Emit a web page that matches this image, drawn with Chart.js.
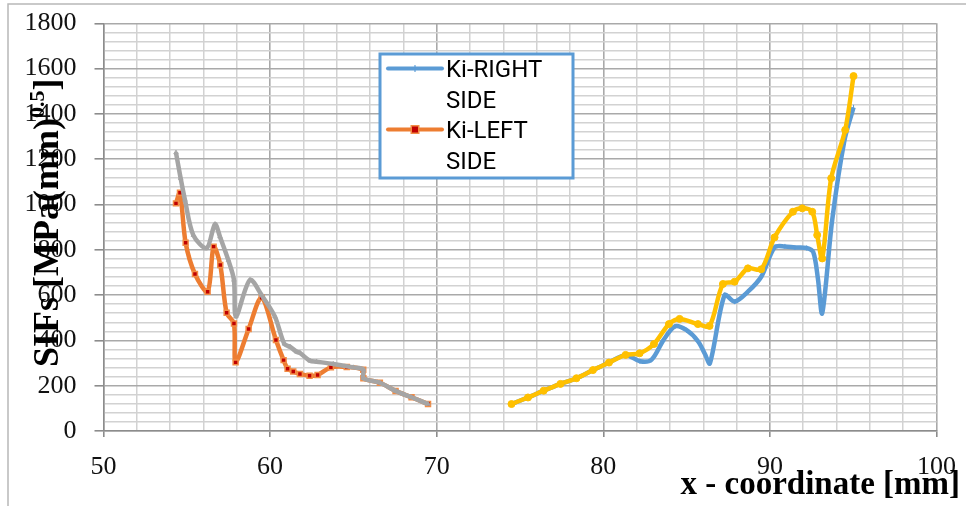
<!DOCTYPE html>
<html>
<head>
<meta charset="utf-8">
<script src="https://cdn.jsdelivr.net/npm/chart.js@4.4.0/dist/chart.umd.min.js"></script>
<style>
  body { margin: 0; background: #fff; }
  #sifChart { display: block; }
</style>
</head>
<body>
<canvas id="sifChart" width="966" height="506"></canvas>
<script>
// ---------------- data ----------------

const rightLabel = "Ki-RIGHT SIDE";
const leftLabel = "Ki-LEFT SIDE";

// Ki right side (blue)
const rightX = [74.49, 75.48, 76.42, 77.43, 78.39, 79.38, 80.34, 81.34, 82.2, 82.9, 83.6, 84.3, 85.0, 85.7, 86.1, 86.4,
  87.28, 87.88, 88.68, 89.48, 90.28, 90.9, 91.5, 92.2, 92.6, 92.88, 93.14, 93.74, 94.48, 95.02];
const rightY = [119, 148, 178, 208, 233, 269, 302, 336, 308, 315, 400, 462, 445, 395, 340, 299,
  600, 571, 615, 681, 811, 815, 810, 808, 790, 674, 520, 932, 1285, 1429];

// second right side series (yellow)
const right2X = [74.49, 75.48, 76.42, 77.43, 78.39, 79.38, 80.34, 81.34, 82.18, 83.04, 83.94, 84.58, 85.68, 86.38,
  87.18, 87.88, 88.68, 89.48, 90.28, 91.38, 91.94, 92.54, 92.84, 93.14, 93.68, 94.52, 95.02];
const right2Y = [119, 148, 178, 208, 233, 269, 302, 336, 343, 384, 472, 495, 472, 464,
  649, 659, 718, 714, 855, 968, 983, 968, 865, 762, 1116, 1329, 1567];

// Ki left side (orange)
const leftX = [54.35, 54.59, 54.93, 55.49, 56.25, 56.61, 57.01, 57.39, 57.83, 57.93, 58.71, 59.49, 60.35, 60.81,
  61.05, 61.39, 61.79, 62.37, 62.85, 63.65, 64.6, 65.59, 65.6, 66.59, 67.53, 68.49, 69.48];
const leftY = [1005, 1052, 831, 693, 615, 814, 733, 522, 475, 303, 450, 588, 402, 313,
  275, 263, 252, 244, 247, 281, 283, 270, 233, 213, 177, 149, 119];

// second left side series (gray)
const left2X = [54.35, 54.63, 54.89, 55.39, 56.19, 56.69, 56.99, 57.49, 57.83, 57.95, 58.79, 59.49, 60.29, 60.85,
  61.19, 61.59, 61.79, 62.39, 62.79, 63.79, 64.99, 65.59, 65.6, 66.59, 67.53, 68.49, 69.48];
const left2Y = [1229, 1116, 1020, 865, 807, 913, 858, 755, 667, 505, 667, 600, 505, 385,
  372, 350, 345, 310, 306, 296, 281, 272, 233, 213, 177, 149, 119];

const xTickLabels = [50, 60, 70, 80, 90, 100];
const yTickLabels = [0, 200, 400, 600, 800, 1000, 1200, 1400, 1600, 1800];

const xTitle = "x - coordinate [mm]";
const yTitleMain = "SIFs [MPa(mm)";
const yTitleSup = "0.5";
const yTitleEnd = "]";

// ---------------- helpers ----------------

const toPoints = (xs, ys) => xs.map((x, i) => ({ x: x, y: ys[i] }));
const serif = "'Liberation Serif', 'DejaVu Serif', serif";

// ---------------- plugins ----------------

// white page with the thin frame round it
const pageFrame = {
  id: "pageFrame",
  beforeDraw(chart) {
    const { ctx, width, height } = chart;
    ctx.save();
    ctx.fillStyle = "#fff";
    ctx.fillRect(0, 0, width, height);
    ctx.strokeStyle = "#b8b8b8";
    ctx.lineWidth = 1.5;
    ctx.beginPath();
    ctx.moveTo(8, height);
    ctx.lineTo(8, 4);
    ctx.lineTo(width, 4);
    ctx.stroke();
    ctx.restore();
  },
};

// axis titles sit on top of the tick labels
const axisTitles = {
  id: "axisTitles",
  afterDraw(chart) {
    const { ctx } = chart;
    ctx.save();
    ctx.fillStyle = "#000";
    ctx.textBaseline = "alphabetic";

    ctx.font = "bold 33px " + serif;
    ctx.textAlign = "right";
    ctx.fillText(xTitle, 960, 494);

    ctx.translate(58, 367);
    ctx.rotate(-Math.PI / 2);
    ctx.textAlign = "left";
    ctx.font = "bold 36px " + serif;
    ctx.fillText(yTitleMain, 0, 0);
    let pos = ctx.measureText(yTitleMain).width;
    ctx.font = "bold 22px " + serif;
    ctx.fillText(yTitleSup, pos, -14);
    pos += ctx.measureText(yTitleSup).width;
    ctx.font = "bold 36px " + serif;
    ctx.fillText(yTitleEnd, pos, 0);
    ctx.restore();
  },
};

// boxed legend inside the plot, labels wrap onto two lines
const boxLegend = {
  id: "boxLegend",
  afterDraw(chart) {
    const { ctx } = chart;
    const box = { left: 380, top: 54, right: 573, bottom: 178 };
    ctx.save();
    ctx.fillStyle = "#fff";
    ctx.fillRect(box.left, box.top, box.right - box.left, box.bottom - box.top);
    ctx.strokeStyle = "#5B9BD5";
    ctx.lineWidth = 3;
    ctx.strokeRect(box.left, box.top, box.right - box.left, box.bottom - box.top);

    const shown = chart.data.datasets.filter(ds => ds.label === rightLabel || ds.label === leftLabel);
    shown.forEach((ds, i) => {
      const lineY = box.top + 14.5 + i * 61;
      ctx.strokeStyle = ds.borderColor;
      ctx.lineWidth = 4;
      ctx.lineCap = "round";
      ctx.beginPath();
      ctx.moveTo(box.left + 8, lineY);
      ctx.lineTo(box.left + 62, lineY);
      ctx.stroke();
      const mx = box.left + 35;
      if (ds.pointStyle === "rect") {
        ctx.fillStyle = ds.pointBorderColor;
        ctx.fillRect(mx - 4.5, lineY - 4.5, 9, 9);
        ctx.fillStyle = ds.backgroundColor;
        ctx.fillRect(mx - 3, lineY - 3, 6, 6);
      } else {
        ctx.lineWidth = 1.2;
        ctx.beginPath();
        ctx.moveTo(mx, lineY - 3);
        ctx.lineTo(mx, lineY + 3);
        ctx.stroke();
      }
      ctx.fillStyle = "#000";
      ctx.font = "24px Roboto, 'Liberation Sans', sans-serif";
      ctx.textAlign = "left";
      ctx.textBaseline = "alphabetic";
      const words = ds.label.split(" ");
      words.forEach((w, j) => {
        ctx.fillText(w, box.left + 66, lineY + 8.5 + j * 30.5);
      });
    });
    ctx.restore();
  },
};

// ---------------- config ----------------

const isMajorX = v => xTickLabels.includes(v);
const isMajorY = v => yTickLabels.includes(v);

const config = {
  type: "scatter",
  data: {
    datasets: [
      {
        label: rightLabel,
        data: toPoints(rightX, rightY),
        showLine: true,
        tension: 0.3,
        borderColor: "#5B9BD5",
        backgroundColor: "#5B9BD5",
        borderWidth: 4.5,
        pointStyle: "line",
        rotation: 90,
        pointRadius: 2.5,
        pointBorderWidth: 1,
        order: 4,
      },
      {
        label: leftLabel,
        data: toPoints(leftX, leftY),
        showLine: true,
        tension: 0.3,
        borderColor: "#ED7D31",
        backgroundColor: "#C00000",
        pointBorderColor: "#F28C45",
        borderWidth: 4.5,
        pointStyle: "rect",
        pointRadius: 3.5,
        pointBorderWidth: 1.5,
        order: 3,
      },
      {
        label: "Series3",
        data: toPoints(left2X, left2Y),
        showLine: true,
        tension: 0.3,
        borderColor: "#A5A5A5",
        backgroundColor: "#A5A5A5",
        borderWidth: 4.5,
        pointStyle: "triangle",
        pointRadius: 2.5,
        pointBorderWidth: 1,
        order: 2,
      },
      {
        label: "Series4",
        data: toPoints(right2X, right2Y),
        showLine: true,
        tension: 0.3,
        borderColor: "#FFC000",
        backgroundColor: "#FFC000",
        borderWidth: 4.5,
        pointStyle: "circle",
        pointRadius: 3.5,
        pointBorderWidth: 1,
        order: 1,
      },
    ],
  },
  options: {
    responsive: false,
    animation: false,
    devicePixelRatio: 1,
    layout: { padding: { top: 23.3, right: 29.5, left: 0, bottom: 0 } },
    plugins: {
      legend: { display: false },
      tooltip: { enabled: false },
    },
    scales: {
      x: {
        type: "linear",
        min: 50,
        max: 100,
        afterFit(scale) { scale.height = 75; },
        ticks: {
          stepSize: 2,
          autoSkip: false,
          maxRotation: 0,
          padding: 9,
          color: "#111",
          font: { family: serif, size: 26, lineHeight: 1.6 },
          callback: v => (isMajorX(v) ? String(v) : ""),
        },
        grid: {
          color: c => (isMajorX(c.tick.value) ? "#a9a9a9" : "#d2d2d2"),
          lineWidth: c => (isMajorX(c.tick.value) ? 1.6 : 1.5),
          tickColor: c => (isMajorX(c.tick.value) ? "#8c8c8c" : "rgba(0,0,0,0)"),
          tickLength: 6,
        },
        border: { color: "#8c8c8c", width: 1.5 },
      },
      y: {
        min: 0,
        max: 1800,
        afterFit(scale) { scale.width = 103.5; },
        ticks: {
          stepSize: 40,
          autoSkip: false,
          padding: 18,
          color: "#111",
          font: { family: serif, size: 26, lineHeight: 0.4 },
          callback: v => (isMajorY(v) ? String(v) : ""),
        },
        grid: {
          color: c => (isMajorY(c.tick.value) ? "#a9a9a9" : "#d2d2d2"),
          lineWidth: c => (isMajorY(c.tick.value) ? 1.6 : 1.5),
          tickColor: c => (isMajorY(c.tick.value) ? "#8c8c8c" : "rgba(0,0,0,0)"),
          tickLength: 9,
        },
        border: { color: "#8c8c8c", width: 1.5 },
      },
    },
  },
  plugins: [pageFrame, boxLegend, axisTitles],
};

const sifChart = new Chart(document.getElementById("sifChart"), config);
</script>
</body>
</html>
